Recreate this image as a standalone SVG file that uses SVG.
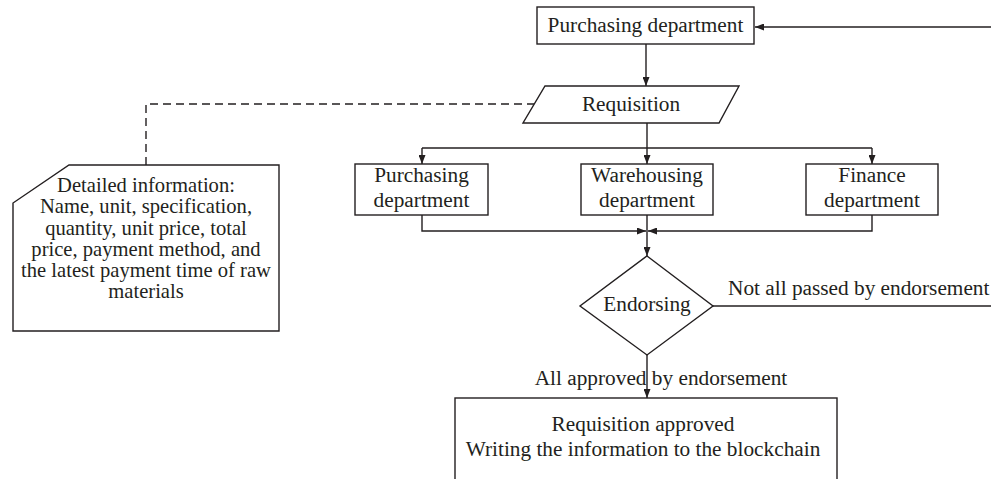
<svg xmlns="http://www.w3.org/2000/svg" width="991" height="479" viewBox="0 0 991 479">
<defs>
<marker id="ah" markerWidth="9" markerHeight="7" refX="9" refY="3.5" orient="auto" markerUnits="userSpaceOnUse">
<path d="M0,0 L9,3.5 L0,7 Z" fill="#231f20"/>
</marker>
<style>
.s{fill:#fff;stroke:#231f20;stroke-width:1.4}
.c{fill:none;stroke:#231f20;stroke-width:1.4}
.d{fill:none;stroke:#231f20;stroke-width:1.4;stroke-dasharray:8,5}
.t{font-family:"Liberation Serif","Times New Roman",serif;font-size:21.3px;fill:#231f20;text-anchor:middle}
.n{font-family:"Liberation Serif","Times New Roman",serif;font-size:20.6px;fill:#231f20;text-anchor:middle}
.l{font-family:"Liberation Serif","Times New Roman",serif;font-size:21.3px;fill:#231f20}
</style>
</defs>
<rect width="991" height="479" fill="#fff"/>
<g id="connectors">
<path class="c" d="M991,27 L755,27" marker-end="url(#ah)"/>
<path class="c" d="M646,44 L646,86" marker-end="url(#ah)"/>
<path class="d" d="M146,165 L146,104 L534,104"/>
<path class="c" d="M647,123 L647,148"/>
<path class="c" d="M422,148 L872,148"/>
<path class="c" d="M422,148 L422,164" marker-end="url(#ah)"/>
<path class="c" d="M647,148 L647,164" marker-end="url(#ah)"/>
<path class="c" d="M872,148 L872,164" marker-end="url(#ah)"/>
<path class="c" d="M422,215 L422,231 L646,231" marker-end="url(#ah)"/>
<path class="c" d="M872,215 L872,231 L648,231" marker-end="url(#ah)"/>
<path class="c" d="M647,215 L647,256" marker-end="url(#ah)"/>
<path class="c" d="M713,306 L991,306"/>
<path class="c" d="M647,355 L647,398" marker-end="url(#ah)"/>
<text class="l" x="728" y="295">Not all passed by endorsement</text>
<text class="t" x="661" y="385">All approved by endorsement</text>
</g>
<g id="purchasing-top">
<rect class="s" x="537" y="7" width="217" height="37"/>
<text class="t" x="645.5" y="32">Purchasing department</text>
</g>
<g id="requisition">
<path class="s" d="M545,86 L739,86 L719,123 L523,123 Z"/>
<text class="t" x="631" y="111">Requisition</text>
</g>
<g id="detail-note">
<path class="s" d="M69,165 L279,165 L279,331 L13,331 L13,203 Z"/>
<text class="n" x="146" y="192">Detailed information:</text>
<text class="n" x="146" y="213">Name, unit, specification,</text>
<text class="n" x="146" y="235">quantity, unit price, total</text>
<text class="n" x="146" y="256">price, payment method, and</text>
<text class="n" x="146" y="277">the latest payment time of raw</text>
<text class="n" x="146" y="298">materials</text>
</g>
<g id="purchasing-dept">
<rect class="s" x="355" y="164" width="133" height="51"/>
<text class="t" x="421.5" y="182">Purchasing</text>
<text class="t" x="421.5" y="207">department</text>
</g>
<g id="warehousing-dept">
<rect class="s" x="581" y="164" width="132" height="51"/>
<text class="t" x="647" y="182">Warehousing</text>
<text class="t" x="647" y="207">department</text>
</g>
<g id="finance-dept">
<rect class="s" x="806" y="164" width="132" height="51"/>
<text class="t" x="872" y="182">Finance</text>
<text class="t" x="872" y="207">department</text>
</g>
<g id="endorsing">
<path class="s" d="M647,256 L713,306 L647,355 L580,306 Z"/>
<text class="t" x="647" y="311">Endorsing</text>
</g>
<g id="approved">
<rect class="s" x="455" y="398" width="382" height="100"/>
<text class="t" x="643" y="431">Requisition approved</text>
<text class="t" x="643" y="456">Writing the information to the blockchain</text>
</g>
</svg>
